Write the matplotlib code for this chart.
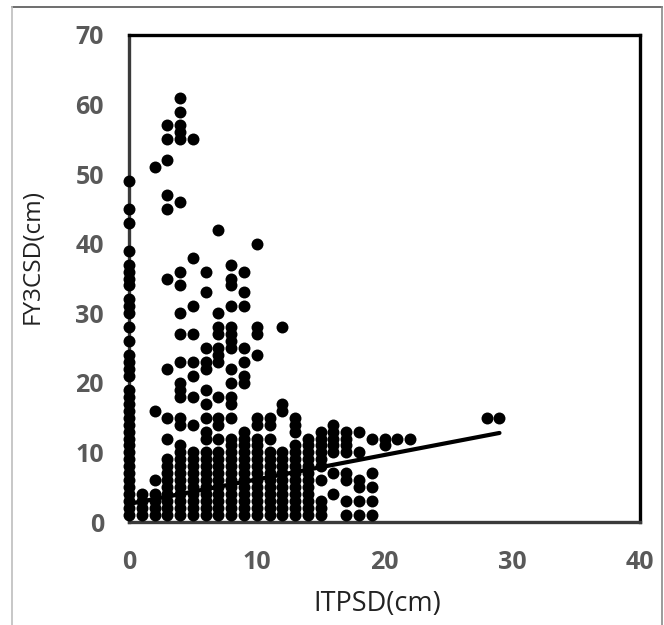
#import
import matplotlib
matplotlib.use("Agg")
import matplotlib.pyplot as plt
from matplotlib.lines import Line2D

#data: ITPSD value -> FY3CSD values
col_0 = [1, 2, 3, 4, 5, 6, 7, 8, 9, 10, 11, 12, 13, 14, 15, 16, 17, 18, 19, 21, 22, 23, 24, 26, 28, 30, 31, 32, 34, 35, 36, 37, 39, 43, 45, 49]
col_1 = [1, 2, 3, 4]
col_2 = [1, 2, 3, 4, 6, 16, 51]
col_3 = [1, 2, 3, 4, 5, 6, 7, 8, 9, 12, 15, 22, 35, 45, 47, 52, 55, 57]
col_4 = [1, 2, 3, 4, 5, 6, 7, 8, 9, 10, 11, 14, 15, 18, 19, 20, 23, 27, 30, 34, 36, 46, 55, 56, 57, 59, 61]
col_5 = [1, 2, 3, 4, 5, 6, 7, 8, 9, 10, 14, 18, 21, 23, 27, 31, 38, 55]
col_6 = [1, 2, 3, 4, 5, 6, 7, 8, 9, 10, 12, 13, 15, 17, 19, 22, 23, 25, 33, 36]
col_7 = [1, 2, 3, 4, 5, 6, 7, 8, 9, 10, 12, 14, 15, 18, 23, 24, 25, 27, 28, 30, 42]
col_8 = [1, 2, 3, 4, 5, 6, 7, 8, 9, 10, 11, 12, 15, 17, 18, 20, 22, 25, 26, 27, 28, 31, 34, 35, 37]
col_9 = [1, 2, 3, 4, 5, 6, 7, 8, 9, 10, 11, 12, 13, 20, 21, 23, 25, 31, 33, 36]
col_10 = [1, 2, 3, 4, 5, 6, 7, 8, 9, 10, 11, 12, 14, 15, 24, 27, 28, 40]
col_11 = [1, 2, 3, 4, 5, 6, 7, 8, 9, 10, 12, 14, 15]
col_12 = [1, 2, 3, 4, 5, 6, 7, 8, 9, 10, 16, 17, 28]
col_13 = [1, 2, 3, 4, 5, 6, 7, 8, 9, 10, 11, 13, 14, 15]
col_14 = [1, 2, 3, 4, 5, 6, 7, 8, 9, 10, 11, 12]
col_15 = [1, 2, 3, 6, 8, 9, 10, 11, 12, 13]
col_16 = [4, 7, 10, 11, 12, 13, 14]
col_17 = [1, 3, 6, 7, 10, 11, 12, 13]
col_18 = [1, 3, 5, 6, 10, 13]
col_19 = [1, 3, 5, 7, 12]
col_20 = [11, 12]
col_21 = [12]
col_22 = [12]
col_28 = [15]
col_29 = [15]

columns = [col_0, col_1, col_2, col_3, col_4, col_5, col_6, col_7, col_8, col_9,
           col_10, col_11, col_12, col_13, col_14, col_15, col_16, col_17, col_18,
           col_19, col_20, col_21, col_22, col_28, col_29]
column_x = list(range(23)) + [28, 29]

trend_x = [0, 29]
trend_y = [2.6, 12.8]

x_ticks = [0, 10, 20, 30, 40]
y_ticks = [0, 10, 20, 30, 40, 50, 60, 70]

#plot
plt.rcParams["font.family"] = ["Open Sans", "DejaVu Sans"]
fig = plt.figure(figsize=(6.64, 6.25), dpi=100)
ax = fig.add_axes([129 / 664, 1 - 522 / 625, 511 / 664, 487 / 625])

xs = []
ys = []
for x, col in zip(column_x, columns):
    for y in col:
        xs.append(x)
        ys.append(y)
ax.plot(xs, ys, "o", color="black", ms=8.6, mew=0, clip_on=False, zorder=3)
ax.plot(trend_x, trend_y, color="black", lw=3, solid_capstyle="round", zorder=4)

ax.set_xlim(0, 40)
ax.set_ylim(0, 70)
ax.set_xticks(x_ticks)
ax.set_yticks(y_ticks)
ax.tick_params(length=0, labelsize=18, labelcolor="#595959")
ax.tick_params(axis="x", pad=20)
ax.tick_params(axis="y", pad=18)
for lab in ax.get_xticklabels() + ax.get_yticklabels():
    lab.set_fontweight("bold")

for side in ["top", "right"]:
    ax.spines[side].set_linewidth(2.4)
    ax.spines[side].set_color("black")
for side in ["left", "bottom"]:
    ax.spines[side].set_linewidth(2.4)
    ax.spines[side].set_color("#3a3a3a")
ax.axvline(0, color="#a8a8a8", lw=0.8, zorder=2.5, clip_on=False)
ax.axhline(0, color="#a8a8a8", lw=0.8, zorder=2.5, clip_on=False)

fig.text(377 / 664, 1 - 604 / 625, "ITPSD(cm)", fontsize=19.5, color="#222222", ha="center", va="center")
fig.text(33 / 664, 1 - 256 / 625, "FY3CSD(cm)", fontsize=17.5, color="#222222", ha="center", va="center", rotation=90)

# grey border round the picture, open at the bottom
def frame_line(x0, y0, x1, y1, colour):
    fig.add_artist(Line2D([x0 / 664, x1 / 664], [1 - y0 / 625, 1 - y1 / 625],
                          transform=fig.transFigure, color=colour, lw=1.2))

frame_line(12, 7, 662, 7, "#555555")
frame_line(12, 7, 12, 625, "#bdbdbd")
frame_line(662, 7, 662, 625, "#8a8a8a")

fig.savefig("out.png", dpi=100)
